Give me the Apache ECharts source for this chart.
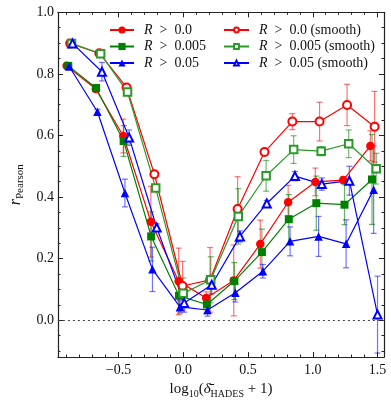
<!DOCTYPE html>
<html><head><meta charset="utf-8">
<script src="https://cdn.jsdelivr.net/npm/echarts@6/dist/echarts.min.js"></script>
<style>html,body{margin:0;padding:0;background:#fff}#c{width:391px;height:404px}</style>
</head><body><div id="c"></div>
<script>
// ---- data ----
const NAMES = ['R > 0.0','R > 0.005','R > 0.05','R > 0.0 (smooth)','R > 0.005 (smooth)','R > 0.05 (smooth)'];
const X_R0 = [-0.9,-0.675,-0.4625,-0.25,-0.035,0.1775,0.39,0.595,0.81,1.02,1.235,1.445];
const Y_R0 = [0.826,0.751,0.598,0.320,0.126,0.072,0.129,0.247,0.383,0.449,0.455,0.566];
const E_R0 = [0.005,0.01,0.055,0.115,0.108,0.02,0.115,0.078,0.055,0.045,0.01,0.049];
const X_R005 = [-0.8875,-0.6725,-0.46,-0.2475,-0.0325,0.1825,0.395,0.6075,0.815,1.0275,1.245,1.4575];
const Y_R005 = [0.826,0.754,0.582,0.272,0.079,0.051,0.127,0.221,0.328,0.380,0.375,0.457];
const E_R005 = [0.005,0.01,0.05,0.08,0.05,0.03,0.06,0.075,0.08,0.088,0.065,0.146];
const X_R05 = [-0.88,-0.6625,-0.45,-0.2375,-0.025,0.1875,0.4025,0.615,0.825,1.045,1.2575,1.47];
const Y_R05 = [0.824,0.677,0.413,0.165,0.043,0.033,0.089,0.159,0.256,0.272,0.248,0.424];
const E_R05 = [0.005,0.008,0.045,0.072,0.02,0.02,0.03,0.022,0.047,0.065,0.078,0.142];
const X_S0 = [-0.8725,-0.6475,-0.4375,-0.2225,-0.005,0.2075,0.42,0.6275,0.8425,1.0525,1.265,1.4775];
const Y_S0 = [0.899,0.867,0.756,0.474,0.111,0.131,0.361,0.546,0.645,0.645,0.699,0.628];
const E_S0 = [0.005,0.008,0.01,0.012,0.08,0.105,0.105,0.01,0.026,0.063,0.067,0.115];
const X_S005 = [-0.8625,-0.6375,-0.43,-0.2125,0,0.2125,0.425,0.64,0.8525,1.065,1.2775,1.49];
const Y_S005 = [0.899,0.865,0.741,0.429,0.087,0.131,0.337,0.469,0.554,0.549,0.573,0.492];
const E_S005 = [0.005,0.005,0.01,0.01,0.05,0.075,0.09,0.05,0.045,0.015,0.045,0.05];
const X_S05 = [-0.855,-0.6275,-0.4175,-0.205,0.0075,0.22,0.4375,0.645,0.8625,1.07,1.2825,1.5];
const Y_S05 = [0.899,0.807,0.593,0.301,0.056,0.115,0.272,0.379,0.468,0.442,0.453,0.018];
const E_S05 = [0.008,0.03,0.025,0.012,0.03,0.03,0.018,0.01,0.015,0.02,0.047,0.125];

const X_MAJOR = [-0.5,0,0.5,1.0,1.5];
const X_MINOR = [-0.9,-0.8,-0.7,-0.6,-0.4,-0.3,-0.2,-0.1,0.1,0.2,0.3,0.4,0.6,0.7,0.8,0.9,1.1,1.2,1.3,1.4];
const Y_MAJOR = [0,0.2,0.4,0.6,0.8,1.0];
const Y_MINOR = [-0.1,-0.05,0.05,0.1,0.15,0.25,0.3,0.35,0.45,0.5,0.55,0.65,0.7,0.75,0.85,0.9,0.95];
const X_RANGE = [-0.9675, 1.55];
const Y_RANGE = [-0.12, 1.0];

// ---- styles ----
const COLORS = ['#ff0000','#008000','#0000ff','#ff0000','#2a9a2a','#0000ff'];
const EBCOL = ['rgba(255,0,0,0.55)','rgba(0,128,0,0.6)','rgba(0,0,255,0.55)','rgba(255,0,0,0.55)','rgba(0,128,0,0.55)','rgba(0,0,255,0.55)'];
const SYMBOLS = ['circle','rect','triangle','emptyCircle','emptyRect','emptyTriangle'];
const SIZES = [8.5,8,8.5,8,7.5,8];
const FONT = 'Liberation Serif';

const XS = [X_R0,X_R005,X_R05,X_S0,X_S005,X_S05];
const YS = [Y_R0,Y_R005,Y_R05,Y_S0,Y_S005,Y_S05];
const ES = [E_R0,E_R005,E_R05,E_S0,E_S005,E_S05];

const minus = v => v.toFixed(1).replace('-', '\u2212');

const series = [];
for (let k = 0; k < 6; k++) {
  series.push({
    type: 'custom', name: NAMES[k] + '_eb', xAxisIndex: 0, yAxisIndex: 0, z: 2,
    data: XS[k].map((x, i) => [x, YS[k][i] - ES[k][i], YS[k][i] + ES[k][i]]),
    encode: { x: 0, y: [1, 2] },
    renderItem: (params, api) => {
      const x = api.value(0);
      const p1 = api.coord([x, api.value(1)]);
      const p2 = api.coord([x, api.value(2)]);
      const w = 3;
      const st = { stroke: EBCOL[k], lineWidth: 1.2 };
      return { type: 'group', children: [
        { type: 'line', shape: { x1: p1[0], y1: p1[1], x2: p2[0], y2: p2[1] }, style: st },
        { type: 'line', shape: { x1: p1[0]-w, y1: p1[1], x2: p1[0]+w, y2: p1[1] }, style: st },
        { type: 'line', shape: { x1: p2[0]-w, y1: p2[1], x2: p2[0]+w, y2: p2[1] }, style: st }
      ]};
    }
  });
}
for (let k = 0; k < 6; k++) {
  const filled = k < 3;
  series.push({
    type: 'line', name: NAMES[k], xAxisIndex: 0, yAxisIndex: 0, z: 3,
    data: XS[k].map((x, i) => [x, YS[k][i]]),
    symbol: SYMBOLS[k], symbolSize: SIZES[k], showAllSymbol: true,
    lineStyle: { color: COLORS[k], width: 1.2 },
    itemStyle: filled ? { color: COLORS[k] } : { color: COLORS[k], borderColor: COLORS[k], borderWidth: 1 },
    emphasis: { disabled: true },
    animation: false,
    markLine: k === 0 ? {
      silent: true, symbol: 'none', label: { show: false },
      lineStyle: { color: '#444', type: [2, 3], width: 1.2 },
      data: [{ yAxis: 0 }]
    } : undefined
  });
}

const axisLine = { show: true, onZero: false, lineStyle: { color: '#222', width: 1.2 } };
const noLine = { show: false, onZero: false };
const tickStyle = { color: '#222', width: 1 };
const xCommon = { type: 'value', min: X_RANGE[0], max: X_RANGE[1], splitLine: { show: false }, gridIndex: 0 };
const yCommon = { type: 'value', min: Y_RANGE[0], max: Y_RANGE[1], splitLine: { show: false }, gridIndex: 0 };
const lblStyle = { fontFamily: FONT, fontSize: 14, color: '#111' };

const rich = {
  i: { fontFamily: FONT, fontStyle: 'italic', fontSize: 14, color: '#111' },
  t: { fontFamily: FONT, fontSize: 14, color: '#111' }
};

function legendFmt(name) {
  return '{i|R}{t|  >  ' + name.slice(4) + '}';
}

const option = {
  animation: false,
  backgroundColor: '#fff',
  grid: { left: 48.5, right: 7, top: 12.3, bottom: 45, containLabel: false },
  legend: [
    { data: NAMES.slice(0, 3), orient: 'vertical', left: 109, top: 23, padding: 0, itemGap: 2.5,
      itemWidth: 24, itemHeight: 9, formatter: legendFmt, selectedMode: false,
      textStyle: { rich: rich, padding: [0, 0, 0, 5] } },
    { data: NAMES.slice(3), orient: 'vertical', left: 223, top: 23, padding: 0, itemGap: 2.5,
      itemWidth: 25, itemHeight: 6, formatter: legendFmt, selectedMode: false,
      textStyle: { rich: rich, padding: [0, 0, 0, 5] } }
  ],
  xAxis: [
    Object.assign({}, xCommon, { position: 'bottom', axisLine,
      axisTick: { show: true, inside: true, length: 5, customValues: X_MAJOR, lineStyle: tickStyle },
      axisLabel: { show: true, customValues: X_MAJOR, margin: 6, formatter: v => minus(v), ...lblStyle },
      name: '{t|log}{s|10}{t|(}{d|δ\u0304}{s|HADES}{t| + 1)}', nameLocation: 'middle', nameGap: 21,
      nameTextStyle: { rich: {
        t: { fontFamily: FONT, fontSize: 15, color: '#111' },
        d: { fontFamily: FONT, fontSize: 15, fontStyle: 'italic', color: '#111' },
        s: { fontFamily: FONT, fontSize: 10, color: '#111', padding: [9, 0, 0, 0] }
      } } }),
    Object.assign({}, xCommon, { position: 'bottom', axisLine: noLine,
      axisTick: { show: true, inside: true, length: 2.5, customValues: X_MINOR, lineStyle: tickStyle },
      axisLabel: { show: false } }),
    Object.assign({}, xCommon, { position: 'top', axisLine,
      axisTick: { show: true, inside: true, length: 5, customValues: X_MAJOR, lineStyle: tickStyle },
      axisLabel: { show: false } }),
    Object.assign({}, xCommon, { position: 'top', axisLine: noLine,
      axisTick: { show: true, inside: true, length: 2.5, customValues: X_MINOR, lineStyle: tickStyle },
      axisLabel: { show: false } })
  ],
  yAxis: [
    Object.assign({}, yCommon, { position: 'left', axisLine,
      axisTick: { show: true, inside: true, length: 5, customValues: Y_MAJOR, lineStyle: tickStyle },
      axisLabel: { show: true, customValues: Y_MAJOR, margin: 4, formatter: v => minus(v), ...lblStyle },
      name: '{r|r}{s|Pearson}', nameLocation: 'middle', nameGap: 28, nameRotate: 90,
      nameTextStyle: { rich: {
        r: { fontFamily: FONT, fontSize: 16, fontStyle: 'italic', color: '#111' },
        s: { fontFamily: FONT, fontSize: 11, color: '#111', padding: [8, 0, 0, 0] }
      } } }),
    Object.assign({}, yCommon, { position: 'left', axisLine: noLine,
      axisTick: { show: true, inside: true, length: 2.5, customValues: Y_MINOR, lineStyle: tickStyle },
      axisLabel: { show: false } }),
    Object.assign({}, yCommon, { position: 'right', axisLine,
      axisTick: { show: true, inside: true, length: 5, customValues: Y_MAJOR, lineStyle: tickStyle },
      axisLabel: { show: false } }),
    Object.assign({}, yCommon, { position: 'right', axisLine: noLine,
      axisTick: { show: true, inside: true, length: 2.5, customValues: Y_MINOR, lineStyle: tickStyle },
      axisLabel: { show: false } })
  ],
  series: series
};

const chart = echarts.init(document.getElementById('c'), null, { renderer: 'canvas' });
chart.setOption(option);
</script></body></html>
